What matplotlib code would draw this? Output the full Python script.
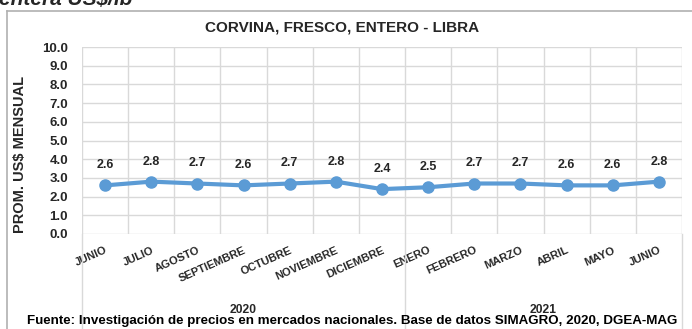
import matplotlib.pyplot as plt
from matplotlib.lines import Line2D
import numpy as np

months = ["JUNIO", "JULIO", "AGOSTO", "SEPTIEMBRE", "OCTUBRE", "NOVIEMBRE",
          "DICIEMBRE", "ENERO", "FEBRERO", "MARZO", "ABRIL", "MAYO", "JUNIO"]
prices = [2.6, 2.8, 2.7, 2.6, 2.7, 2.8, 2.4, 2.5, 2.7, 2.7, 2.6, 2.6, 2.8]
years = ["2020", "2021"]
year_counts = [7, 6]
yticks = np.arange(0, 10.1, 1.0)

font = "Liberation Sans"
ink = "#262626"
W, H = 692, 329
fig = plt.figure(figsize=(W / 100, H / 100), dpi=100)
fig.patch.set_facecolor("white")

# outer chart frame (top and left edges visible)
fig.add_artist(Line2D([7 / W, 1], [1 - 11 / H, 1 - 11 / H], color="#b0b0b0", lw=1.2))
fig.add_artist(Line2D([7 / W, 7 / W], [0, 1 - 11 / H], color="#b0b0b0", lw=1.2))

ax = fig.add_axes([82 / W, 1 - 234 / H, 600 / W, 187 / H])
n = len(months)
x = np.arange(n)
ax.set_xlim(-0.5, n - 0.5)
ax.set_ylim(0, 10)

for spine in ax.spines.values():
    spine.set_visible(False)

for yv in yticks:
    ax.axhline(yv, color="#d9d9d9", lw=1, zorder=0)
for xv in np.arange(-0.5, n, 1.0):
    ax.axvline(xv, color="#d9d9d9", lw=1, zorder=0)

ax.plot(x, prices, color="#5b9bd5", lw=3, marker="o", ms=8, zorder=3)
for xi, v in zip(x, prices):
    ax.annotate(f"{v:.1f}", (xi, v), xytext=(0, 14.5), textcoords="offset points",
                ha="center", va="center", fontsize=9, fontweight="bold",
                family=font, color=ink)

ax.set_yticks(yticks)
ax.set_yticklabels([f"{v:.1f}" for v in yticks], fontsize=9.5, fontweight="bold",
                   family=font, color=ink)
ax.tick_params(axis="y", length=0, pad=10)
ax.set_xticks(x)
ax.set_xticklabels(months, rotation=24, ha="right", rotation_mode="anchor",
                   fontsize=8, fontweight="bold", family=font, color=ink)
ax.tick_params(axis="x", length=0, pad=8)

ax.set_ylabel("PROM. US$ MENSUAL", fontsize=10.5, fontweight="bold", family=font,
              color=ink)
ax.yaxis.set_label_coords(-55 / 600, 0.428)

# year group dividers and labels below the month axis
bounds = [-0.5]
for c in year_counts:
    bounds.append(bounds[-1] + c)
for b in bounds:
    ax.plot([b, b], [0, -5.2], color="#d9d9d9", lw=1, clip_on=False)
for i, yr in enumerate(years):
    mid = (bounds[i] + bounds[i + 1]) / 2
    ax.text(mid, -4.05, yr, ha="center", va="center", fontsize=8.7,
            fontweight="bold", family=font, color=ink)

fig.text(342 / W, 1 - 27 / H, "CORVINA, FRESCO, ENTERO - LIBRA", ha="center",
         va="center", fontsize=11, fontweight="bold", family=font, color=ink)
fig.text(-1 / W, 1 - 5 / H, "entera US$/lb", ha="left", va="baseline",
         fontsize=15, fontweight="bold", style="italic", family=font, color=ink)
fig.text(352 / W, 1 - 321 / H,
         "Fuente: Investigación de precios en mercados nacionales. Base de datos SIMAGRO, 2020, DGEA-MAG",
         ha="center", va="center", fontsize=9.6, fontweight="bold", family=font,
         color="#000000")

fig.savefig("out.png", dpi=100)
